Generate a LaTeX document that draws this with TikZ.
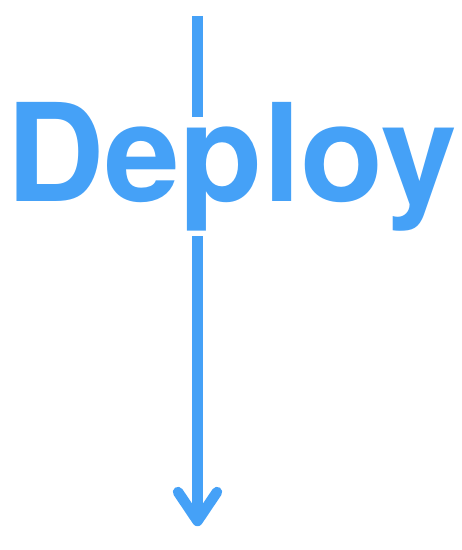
\documentclass[tikz,border=0pt]{standalone}
\usepackage{fontspec}
\setmainfont{TeX Gyre Heros}
\definecolor{deployblue}{RGB}{69,161,247}
\tikzset{
  flow/.style={draw=deployblue, line width=10.5pt},
  tiphead/.style={draw=deployblue, line width=10.5pt, line cap=round, line join=round},
  bigword/.style={text=deployblue, font=\bfseries\fontsize{136}{136}\selectfont, inner sep=0pt, anchor=base, text height=85pt, text depth=34pt}
}
\begin{document}
\begin{tikzpicture}[x=1pt,y=1pt]
\useasboundingbox (0,0) rectangle (462,550);
\coordinate (top) at (197.5,534);
\coordinate (tip) at (197.5,29);
\coordinate (wl) at (178,58);
\coordinate (wr) at (217,58);
\node[bigword] (lbl) at (231.5,348) {Deploy};
\draw[flow] (top) -- (lbl.north -| top);
\draw[flow] (lbl.south -| top) -- (tip);
\draw[tiphead] (wl) -- (tip) -- (wr);
\end{tikzpicture}
\end{document}
